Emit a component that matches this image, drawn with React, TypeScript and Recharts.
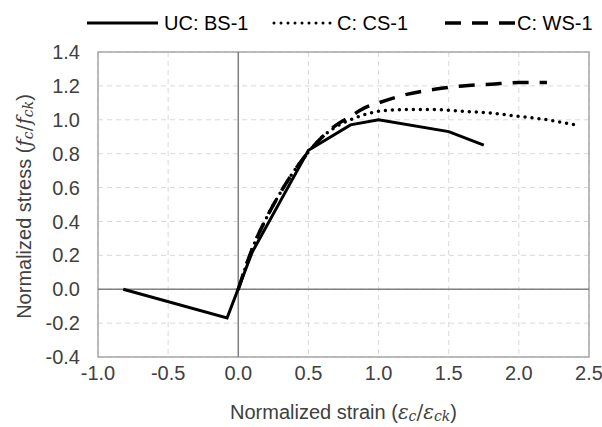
import {
  ComposedChart,
  Line,
  XAxis,
  YAxis,
  CartesianGrid,
  ReferenceLine,
  ReferenceArea,
  Label,
} from "recharts";

const bsStrain = [-0.82, -0.08, 0.1, 0.3, 0.5, 0.8, 1.0, 1.5, 1.75];
const bsStress = [0, -0.17, 0.22, 0.52, 0.82, 0.97, 1.0, 0.93, 0.85];

const csStrain = [0, 0.1, 0.2, 0.3, 0.4, 0.5, 0.6, 0.7, 0.8, 0.9, 1.0, 1.2, 1.4, 1.6, 1.8, 2.0, 2.2, 2.4];
const csStress = [0, 0.24, 0.42, 0.57, 0.7, 0.81, 0.9, 0.96, 1.0, 1.03, 1.05, 1.06, 1.06, 1.05, 1.04, 1.02, 1.0, 0.97];

const wsStrain = [0, 0.1, 0.2, 0.3, 0.4, 0.5, 0.6, 0.7, 0.8, 0.9, 1.0, 1.2, 1.4, 1.6, 1.8, 2.0, 2.2];
const wsStress = [0, 0.24, 0.42, 0.57, 0.7, 0.81, 0.9, 0.97, 1.02, 1.07, 1.1, 1.15, 1.18, 1.2, 1.21, 1.22, 1.22];

const xTicks = [-1, -0.5, 0, 0.5, 1, 1.5, 2, 2.5];
const yTicks = [-0.4, -0.2, 0, 0.2, 0.4, 0.6, 0.8, 1.0, 1.2, 1.4];

const FONT = "'Liberation Sans', Arial, sans-serif";
const MATH = "'DejaVu Serif', serif";
const TEXT = "#404040";
const TICK = { fontSize: 20, fill: TEXT, fontFamily: FONT };

const zip = (xs: number[], ys: number[]) => xs.map((x, i) => ({ x, y: ys[i] }));

const bsData = zip(bsStrain, bsStress);
const csData = zip(csStrain, csStress);
const wsData = zip(wsStrain, wsStress);

// "(a_c/a_ck)" math fragment, subscripts dropped a little
function Ratio({ sym }: { sym: string }) {
  return (
    <>
      <tspan fontFamily={FONT}> (</tspan>
      <tspan fontStyle="italic" fontFamily={MATH} fontSize={20}>{sym}</tspan>
      <tspan fontStyle="italic" fontFamily={MATH} fontSize={14} dy={4}>c</tspan>
      <tspan dy={-4} fontFamily={MATH} fontSize={20}>/</tspan>
      <tspan fontStyle="italic" fontFamily={MATH} fontSize={20}>{sym}</tspan>
      <tspan fontStyle="italic" fontFamily={MATH} fontSize={14} dy={4}>ck</tspan>
      <tspan dy={-4} fontFamily={FONT}>)</tspan>
    </>
  );
}

function YTitle({ viewBox }: any) {
  const cx = 24;
  const cy = viewBox.y + viewBox.height / 2 + 2;
  return (
    <text
      x={cx}
      y={cy}
      transform={`rotate(-90 ${cx} ${cy})`}
      textAnchor="middle"
      dominantBaseline="central"
      fontSize={20}
      fill={TEXT}
      fontFamily={FONT}
    >
      Normalized stress
      <Ratio sym="f" />
    </text>
  );
}

function XTitle({ viewBox }: any) {
  const cx = viewBox.x + viewBox.width / 2;
  return (
    <text x={cx} y={412} textAnchor="middle" dominantBaseline="central" fontSize={20} fill={TEXT} fontFamily={FONT}>
      Normalized strain
      <Ratio sym="ε" />
    </text>
  );
}

function LegendOverlay() {
  const y = 23;
  const t = { fontSize: 20, fill: "#000", fontFamily: FONT, dominantBaseline: "central" as const };
  return (
    <svg width={602} height={44} style={{ position: "absolute", left: 0, top: 0 }}>
      <line x1={87} x2={158} y1={y} y2={y} stroke="#000" strokeWidth={3} />
      <text x={164} y={y} {...t}>UC: BS-1</text>
      <line x1={274} x2={332} y1={y} y2={y} stroke="#000" strokeWidth={3} strokeDasharray="0 7" strokeLinecap="round" />
      <text x={337} y={y} {...t}>C: CS-1</text>
      <line x1={445} x2={515} y1={y} y2={y} stroke="#000" strokeWidth={3.5} strokeDasharray="16 11" />
      <text x={517} y={y} {...t}>C: WS-1</text>
    </svg>
  );
}

export default function App() {
  return (
    <div style={{ position: "relative", width: 602, height: 427, background: "#fff" }}>
      <style>{"body{margin:0}"}</style>
      <ComposedChart width={602} height={427} margin={{ top: 52, right: 13, bottom: 0, left: 0 }}>
        <CartesianGrid stroke="#d9d9d9" strokeDasharray="5 4" />
        <XAxis
          dataKey="x"
          type="number"
          domain={[-1, 2.5]}
          ticks={xTicks}
          allowDataOverflow
          height={70}
          tickLine={false}
          axisLine={false}
          tickMargin={3}
          tick={TICK}
          tickFormatter={(v: number) => v.toFixed(1)}
        >
          <Label content={<XTitle />} />
        </XAxis>
        <YAxis
          dataKey="y"
          type="number"
          domain={[-0.4, 1.4]}
          ticks={yTicks}
          allowDataOverflow
          width={98}
          tickLine={false}
          axisLine={false}
          tickMargin={12}
          tick={TICK}
          tickFormatter={(v: number) => v.toFixed(1)}
        >
          <Label content={<YTitle />} />
        </YAxis>
        <ReferenceLine x={0} stroke="#808080" strokeWidth={1.5} />
        <ReferenceLine y={0} stroke="#808080" strokeWidth={1.5} />
        <ReferenceArea x1={-1} x2={2.5} y1={-0.4} y2={1.4} fill="none" stroke="#a6a6a6" strokeWidth={1.5} />
        <Line
          data={csData}
          dataKey="y"
          type="monotone"
          stroke="#000"
          strokeWidth={3.5}
          strokeDasharray="0 7"
          strokeLinecap="round"
          dot={false}
          isAnimationActive={false}
        />
        <Line
          data={wsData}
          dataKey="y"
          type="monotone"
          stroke="#000"
          strokeWidth={3.5}
          strokeDasharray="16 11"
          dot={false}
          isAnimationActive={false}
        />
        <Line
          data={bsData}
          dataKey="y"
          type="linear"
          stroke="#000"
          strokeWidth={3}
          dot={false}
          isAnimationActive={false}
        />
      </ComposedChart>
      <LegendOverlay />
    </div>
  );
}
